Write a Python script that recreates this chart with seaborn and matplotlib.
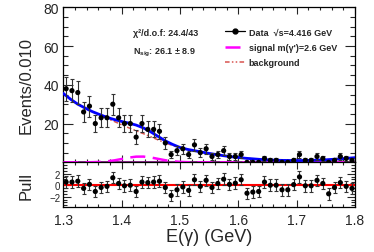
import numpy as np
import pandas as pd
import seaborn as sns
import matplotlib.pyplot as plt
from matplotlib.lines import Line2D
from matplotlib.ticker import MultipleLocator

sns.set_style('ticks')
plt.rcParams['font.family'] = ['Liberation Sans', 'DejaVu Sans']
plt.rcParams['mathtext.fontset'] = 'custom'
plt.rcParams['mathtext.rm'] = 'Liberation Sans'
plt.rcParams['mathtext.bf'] = 'Liberation Sans:bold'

# data: 50 bins of 0.01 GeV from 1.3 to 1.8
bin_lo, bin_hi, bin_w = 1.3, 1.8, 0.01
counts = [38, 37, 36, 26, 29, 20, 23, 23, 30, 23,
          20, 20, 13, 20, 17, 17, 16, 10, 4, 6,
          7, 4, 9, 5, 7, 3, 4, 6, 3, 3,
          4, 0, 0, 0, 2, 1, 1, 0, 0, 1,
          4, 1, 1, 3, 2, 0, 1, 3, 2, 1]
pulls = [0.55, 0.55, 0.7, -0.55, 0.15, -1.1, -0.4, -0.2, 1.3, 0.3,
         -0.1, 0.0, -1.1, 0.55, 0.45, 0.55, 0.7, -0.4, -1.8, -0.8,
         -0.3, -0.9, 0.95, -0.2, 0.85, -0.4, 0.3, 1.05, 0.15, 0.35,
         0.95, -1.4, -1.2, -1.1, 0.55, 0.0, 0.0, -0.8, -0.8, 0.1,
         1.45, -0.1, -0.1, 0.85, 0.3, -1.5, -0.4, 0.45, -0.2, -0.55]

# fit curves, 0.0125 GeV steps
curve_x = [1.3 + 0.0125 * i for i in range(41)]
bkg = [35.6, 32.6, 30.0, 28.0, 26.1, 24.45, 22.7, 21.1, 19.4, 17.8,
       16.3, 14.8, 13.2, 11.6, 10.0, 8.7, 7.45, 6.63, 5.98, 5.3,
       4.6, 4.0, 3.4, 2.9, 2.5, 2.1, 1.8, 1.5, 1.3, 1.1,
       1.0, 0.95, 0.9, 0.95, 1.0, 1.15, 1.3, 1.55, 1.8, 2.1, 2.4]
sig = [0, 0, 0, 0.02, 0.07, 0.21, 0.49, 1.0, 1.7, 2.43,
       2.92, 2.95, 2.51, 1.79, 1.07, 0.54, 0.23, 0.08, 0.02, 0,
       0, 0, 0, 0, 0, 0, 0, 0, 0, 0,
       0, 0, 0, 0, 0, 0, 0, 0, 0, 0, 0]

centers = np.arange(bin_lo + bin_w / 2, bin_hi, bin_w)
df = pd.DataFrame({'E': centers, 'n': counts, 'pull': pulls})
df['err'] = np.sqrt(df['n'])
cdf = pd.DataFrame({'E': curve_x, 'bkg': bkg, 'sig': sig})
cdf['tot'] = cdf['bkg'] + cdf['sig']

sig_dash = (6, 3)
bkg_dash = (3, 1.5, 1, 1.5, 1, 1.5)

fig = plt.figure(figsize=(3.74, 2.53), dpi=100)
ax = fig.add_axes([0.169, 0.3545, 0.780, 0.6125])
axp = fig.add_axes([0.169, 0.178, 0.780, 0.1765])

# main panel
ax.axhline(0, color='#a020a0', lw=2, zorder=2)
sns.lineplot(data=cdf, x='E', y='sig', ax=ax, color='#ff00ff', lw=1.8, zorder=3)
ax.lines[-1].set_dashes(sig_dash)
sns.lineplot(data=cdf, x='E', y='bkg', ax=ax, color='#d9534f', lw=1.1, zorder=3)
ax.lines[-1].set_dashes(bkg_dash)
sns.lineplot(data=cdf, x='E', y='tot', ax=ax, color='#0000ff', lw=2.0, zorder=4)
ax.errorbar(df['E'], df['n'], yerr=df['err'], fmt='none', ecolor='#333333',
            elinewidth=0.8, capsize=1.2, capthick=0.8, zorder=5)
sns.scatterplot(data=df, x='E', y='n', ax=ax, color='black', s=14,
                edgecolor='none', zorder=6)

ax.set_xlim(bin_lo, bin_hi)
ax.set_ylim(0, 80)
ax.set_yticks([20, 40, 60, 80])
ax.yaxis.set_minor_locator(MultipleLocator(5))
ax.xaxis.set_major_locator(MultipleLocator(0.1))
ax.xaxis.set_minor_locator(MultipleLocator(0.02))
ax.set_xticklabels([])
ax.set_xlabel('')
ax.set_ylabel('Events/0.010', fontsize=12)
ax.yaxis.set_label_coords(-0.10, 0.5)
ax.tick_params(axis='both', which='both', direction='in', top=True, right=True,
               labelsize=10, width=0.8, pad=3)
ax.tick_params(axis='y', which='major', length=7)
ax.tick_params(axis='y', which='minor', length=3.5)
ax.tick_params(axis='x', which='major', length=5)
ax.tick_params(axis='x', which='minor', length=2.5)

ax.text(0.239, 0.84, 'χ²/d.o.f: 24.4/43', transform=ax.transAxes,
        fontsize=6.5, fontweight='bold', va='center')
ax.text(0.239, 0.715, r'N$_{\mathbf{sig}}$: 26.1 ± 8.9', transform=ax.transAxes,
        fontsize=6.5, fontweight='bold', va='center')

handles = [Line2D([], [], color='black', lw=0.9, marker='o', ms=3.5),
           Line2D([], [], color='#ff00ff', lw=1.8, dashes=sig_dash),
           Line2D([], [], color='#d9534f', lw=1.1, dashes=bkg_dash)]
labels = ['Data  √s=4.416 GeV', "signal m(γ')=2.6 GeV", 'background']
ax.legend(handles, labels, loc='upper left', bbox_to_anchor=(0.555, 0.87),
          frameon=False, prop={'size': 6.5, 'weight': 'bold'},
          handlelength=2.2, handletextpad=0.4, labelspacing=0.72,
          borderaxespad=0, borderpad=0)

# pull panel
axp.axhline(0, color='red', lw=1.5, zorder=2)
axp.errorbar(df['E'], df['pull'], yerr=1, fmt='none', ecolor='#333333',
             elinewidth=0.8, capsize=1.2, capthick=0.8, zorder=3)
sns.scatterplot(data=df, x='E', y='pull', ax=axp, color='black', s=14,
                edgecolor='none', zorder=4)
axp.set_xlim(bin_lo, bin_hi)
axp.set_ylim(-3.8, 4.0)
axp.set_yticks([-2, 0, 2])
axp.yaxis.set_minor_locator(MultipleLocator(0.5))
axp.xaxis.set_minor_locator(MultipleLocator(0.02))
axp.set_xticks([1.3, 1.4, 1.5, 1.6, 1.7, 1.8])
axp.set_xticklabels(['1.3', '1.4', '1.5', '1.6', '1.7', '1.8'])
axp.set_xlabel('E(γ) (GeV)', fontsize=13, labelpad=1)
axp.set_ylabel('Pull', fontsize=12)
axp.yaxis.set_label_coords(-0.10, 0.5)
axp.tick_params(axis='both', which='both', direction='in', top=True, right=True,
                width=0.8)
axp.tick_params(axis='x', which='major', length=5, labelsize=10, pad=4)
axp.tick_params(axis='x', which='minor', length=2.5)
axp.tick_params(axis='y', which='major', length=6, labelsize=7, pad=2)
axp.tick_params(axis='y', which='minor', length=3)

for a in (ax, axp):
    for s in a.spines.values():
        s.set_linewidth(0.9)
        s.set_color('black')

fig.savefig('out.png', dpi=100)
